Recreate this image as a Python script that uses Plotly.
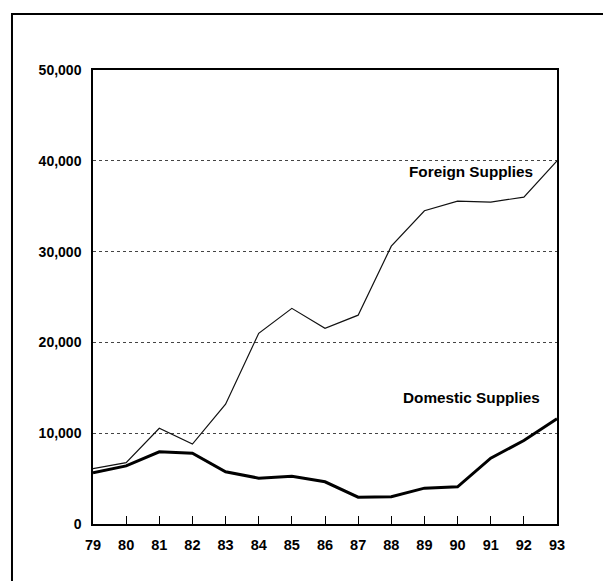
import plotly.graph_objects as go

years = [79, 80, 81, 82, 83, 84, 85, 86, 87, 88, 89, 90, 91, 92, 93]
year_labels = ["79", "80", "81", "82", "83", "84", "85", "86", "87", "88", "89", "90", "91", "92", "93"]
foreign_supplies = [6100, 6750, 10550, 8800, 13200, 21000, 23750, 21550, 23000, 30600, 34500, 35550, 35450, 36000, 40000]
domestic_supplies = [5650, 6400, 7950, 7800, 5750, 5050, 5250, 4650, 2950, 3000, 3950, 4100, 7250, 9200, 11600]
y_ticks = [0, 10000, 20000, 30000, 40000, 50000]
y_tick_labels = ["0", "10,000", "20,000", "30,000", "40,000", "50,000"]

FONT = "Liberation Sans, Arial, sans-serif"

fig = go.Figure()
fig.add_trace(go.Scatter(x=years, y=foreign_supplies, mode="lines",
                         line=dict(color="#111111", width=1.2), name="Foreign Supplies"))
fig.add_trace(go.Scatter(x=years, y=domestic_supplies, mode="lines",
                         line=dict(color="#000000", width=3), name="Domestic Supplies"))

fig.update_layout(
    width=611, height=581,
    margin=dict(l=85, r=62, t=62, b=65),
    paper_bgcolor="white", plot_bgcolor="white",
    showlegend=False,
    font=dict(family=FONT, color="#000000"),
    xaxis=dict(range=[79, 93], tickmode="array", tickvals=years, ticktext=year_labels,
               ticks="inside", ticklen=8, tickwidth=1.3, tickcolor="#000",
               showgrid=False, zeroline=False,
               showline=True, linecolor="#000", linewidth=1.5, mirror=True,
               tickfont=dict(size=14.5, family=FONT, weight="bold"), ticklabelstandoff=7),
    yaxis=dict(range=[0, 50000], tickmode="array", tickvals=y_ticks, ticktext=y_tick_labels,
               ticks="", showgrid=True, gridcolor="#444444", griddash="dot", gridwidth=1,
               zeroline=False, showline=True, linecolor="#000", linewidth=1.5, mirror=True,
               tickfont=dict(size=14, family=FONT, weight="bold"), ticklabelstandoff=7),
)

fig.add_annotation(x=90.39, y=38800, xref="x", yref="y", text="Foreign Supplies",
                   showarrow=False, xanchor="center", yanchor="middle",
                   font=dict(size=15.3, family=FONT, color="#000", weight="bold"))
fig.add_annotation(x=90.41, y=13900, xref="x", yref="y", text="Domestic Supplies",
                   showarrow=False, xanchor="center", yanchor="middle",
                   font=dict(size=15.3, family=FONT, color="#000", weight="bold"))

# outer frame of the scanned figure (open at right/bottom as cropped)
fig.add_shape(type="rect", xref="paper", yref="paper",
              x0=-0.1746, x1=1.2, y0=-0.2, y1=1.1233,
              line=dict(color="#000", width=2), layer="below")

fig.write_html("out.html")
